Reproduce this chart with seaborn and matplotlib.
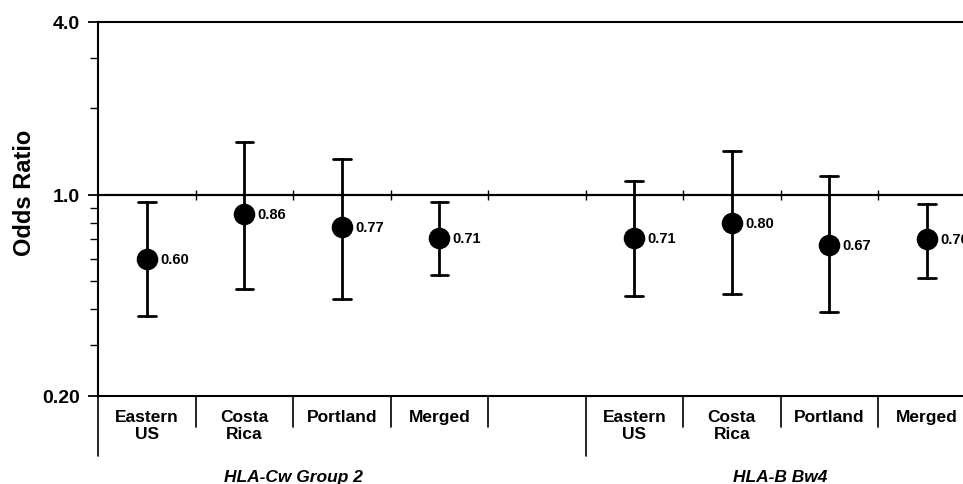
import numpy as np
import pandas as pd
import matplotlib
matplotlib.use("Agg")
import matplotlib.pyplot as plt
import matplotlib.transforms as mtransforms
from matplotlib.ticker import FixedLocator, NullFormatter
import seaborn as sns

# ---- data -------------------------------------------------------------
groups = ["HLA-Cw Group 2", "HLA-B Bw4"]
sites = ["Eastern\nUS", "Costa\nRica", "Portland", "Merged"]

odds_cw = [0.60, 0.86, 0.77, 0.71]
lower_cw = [0.38, 0.47, 0.435, 0.525]
upper_cw = [0.94, 1.53, 1.33, 0.94]

odds_bw = [0.71, 0.80, 0.67, 0.70]
lower_bw = [0.445, 0.45, 0.39, 0.515]
upper_bw = [1.12, 1.42, 1.16, 0.93]

y_major = [0.20, 1.0, 4.0]
y_major_labels = ["0.20", "1.0", "4.0"]
y_minor = [0.3, 0.4, 0.5, 0.6, 0.7, 0.8, 0.9, 2.0, 3.0]

# slot layout: 4 sites, an empty spacer slot, 4 sites
n_sites = len(sites)
slots = list(range(n_sites)) + list(range(n_sites + 1, 2 * n_sites + 1))
odds = odds_cw + odds_bw
lower = lower_cw + lower_bw
upper = upper_cw + upper_bw

rows = []
for s, lo, est, hi in zip(slots, lower, odds, upper):
    for v in (lo, est, hi):
        rows.append({"slot": s, "value": v})
df = pd.DataFrame(rows)

# ---- figure -----------------------------------------------------------
sns.set_style("white")
plt.rcParams["font.family"] = ["Liberation Sans", "DejaVu Sans"]
plt.rcParams["font.weight"] = "bold"
for key in ("text.color", "axes.labelcolor", "xtick.color", "ytick.color",
            "axes.edgecolor"):
    plt.rcParams[key] = "black"

fig = plt.figure(figsize=(9.63, 4.85), dpi=100)
ax = fig.add_axes([0.1018, 0.1821, 0.9112, 0.7711])
ax.set_yscale("log")

# point estimate (median of lo/est/hi) with an interval spanning the CI
sns.pointplot(
    data=df, x="slot", y="value", ax=ax,
    native_scale=True, estimator="median", errorbar=("pi", 100),
    linestyle="none", marker="o", markersize=13.5, color="black",
    capsize=0.18, err_kws={"linewidth": 2.0},
)

n_slots = 2 * n_sites + 1
ax.set_xlim(-0.5, n_slots - 0.5)
ax.set_ylim(0.20, 4.0)

# reference line at OR = 1 with small crossing ticks at slot borders
ax.axhline(1.0, color="black", linewidth=1.6, zorder=1)
borders = np.arange(0.5, n_slots - 0.5, 1.0)
ax.plot(borders, np.ones_like(borders), linestyle="none", marker="|",
        markersize=7, markeredgewidth=1.0, color="black", zorder=1)

# value labels next to each point
for s, est in zip(slots, odds):
    ax.annotate(f"{est:.2f}", (s, est), xytext=(9.5, 0),
                textcoords="offset points", ha="left", va="center",
                fontsize=10.5, fontweight="bold", color="black",
                annotation_clip=False)

# axes styling
for side in ("left", "bottom", "top"):
    ax.spines[side].set_visible(True)
    ax.spines[side].set_linewidth(1.5)
    ax.spines[side].set_color("black")
ax.spines["right"].set_visible(False)

ax.yaxis.set_major_locator(FixedLocator(y_major))
ax.set_yticklabels(y_major_labels)
ax.yaxis.set_minor_locator(FixedLocator(y_minor))
ax.yaxis.set_minor_formatter(NullFormatter())
ax.tick_params(axis="y", which="major", direction="out", length=7, width=1.3,
               pad=6, labelsize=14, left=True, colors="black")
ax.tick_params(axis="y", which="minor", direction="out", length=6, width=1.0,
               left=True, colors="black")
ax.set_xticks([])
ax.set_xlabel("")
ax.set_ylabel("")

ax.text(-0.0843, 0.545, "Odds Ratio", transform=ax.transAxes, rotation=90,
        ha="center", va="center", fontsize=17, fontweight="bold",
        color="black")

# category table below the axis
trans = mtransforms.blended_transform_factory(ax.transData, ax.transAxes)
short_len, long_len = 0.083, 0.161
for b in np.arange(-0.5, n_slots, 1.0):
    is_group_edge = b in (-0.5, n_sites + 0.5, n_slots - 0.5)
    depth = long_len if is_group_edge else short_len
    ax.plot([b, b], [0, -depth], transform=trans, color="black",
            linewidth=1.2, clip_on=False)

for s, name in zip(slots, sites * 2):
    ax.text(s, -0.036, name, transform=trans, ha="center", va="top",
            fontsize=12.5, fontweight="bold", linespacing=1.12,
            color="black")

group_centers = [(n_sites - 1) / 2, n_sites + 1 + (n_sites - 1) / 2]
for c, g in zip(group_centers, groups):
    ax.text(c, -0.196, g, transform=trans, ha="center", va="top",
            fontsize=12.5, fontweight="bold", fontstyle="italic",
            color="black")

fig.savefig("out.png", dpi=100)
